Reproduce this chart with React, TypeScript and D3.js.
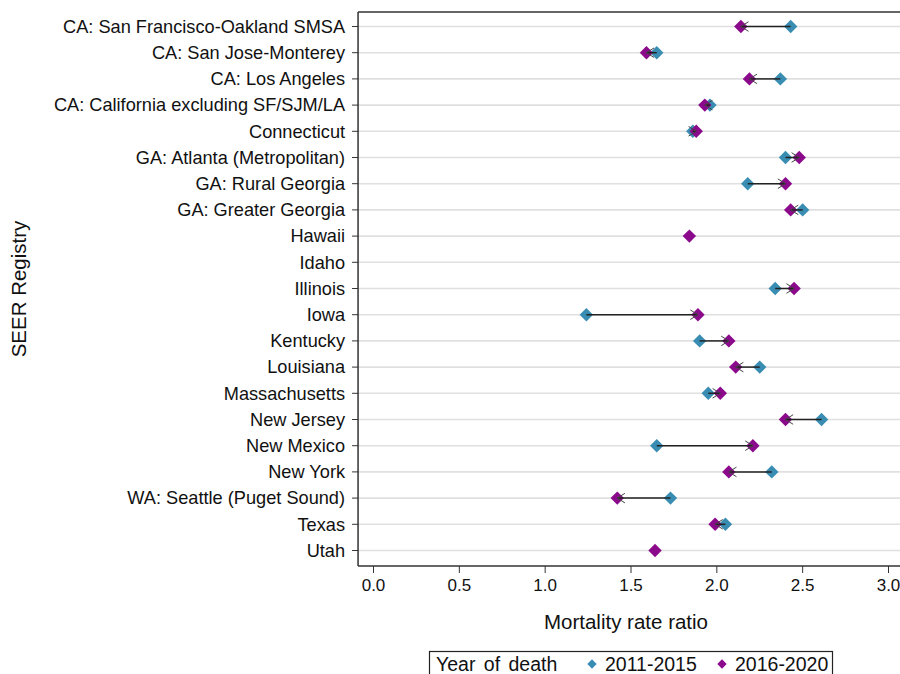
import * as d3 from "d3";

const registries = [
  "CA: San Francisco-Oakland SMSA",
  "CA: San Jose-Monterey",
  "CA: Los Angeles",
  "CA: California excluding SF/SJM/LA",
  "Connecticut",
  "GA: Atlanta (Metropolitan)",
  "GA: Rural Georgia",
  "GA: Greater Georgia",
  "Hawaii",
  "Idaho",
  "Illinois",
  "Iowa",
  "Kentucky",
  "Louisiana",
  "Massachusetts",
  "New Jersey",
  "New Mexico",
  "New York",
  "WA: Seattle (Puget Sound)",
  "Texas",
  "Utah",
];

// mortality rate ratio, 2011-2015 and 2016-2020 (null = not shown)
const ratio2011 = [2.43, 1.65, 2.37, 1.96, 1.86, 2.4, 2.18, 2.5, null, null, 2.34, 1.24, 1.9, 2.25, 1.95, 2.61, 1.65, 2.32, 1.73, 2.05, null];
const ratio2016 = [2.14, 1.59, 2.19, 1.93, 1.88, 2.48, 2.4, 2.43, 1.84, null, 2.45, 1.89, 2.07, 2.11, 2.02, 2.4, 2.21, 2.07, 1.42, 1.99, 1.64];

const xTicks = [0, 0.5, 1, 1.5, 2, 2.5, 3];
const seriesNames = ["2011-2015", "2016-2020"];

const TEAL = "#3a8db2";
const PURPLE = "#8b0a8b";
const FONT = "'Liberation Sans', Arial, sans-serif";

const width = 900;
const height = 674;

const App = () => {
  const x = d3.scaleLinear().domain([0, 3]).range([373.5, 888.5]);
  const y = d3.scalePoint<string>().domain(registries).range([26.5, 550.5]);

  const left = x(-0.09);
  const right = width;
  const top = 12;
  const bottom = 566;

  const diamond = d3.symbol().type(d3.symbolSquare).size(90)();

  const arrows = registries
    .map((r, i) => ({ r, a: ratio2011[i], b: ratio2016[i] }))
    .filter(d => d.a != null && d.b != null);

  const headPath = (a: number, b: number, yy: number) => {
    const x1 = x(a);
    const x2 = x(b);
    const dir = x2 >= x1 ? 1 : -1;
    const L = 9;
    const ang = (32 * Math.PI) / 180;
    const dx = -dir * L * Math.cos(ang);
    const dy = L * Math.sin(ang);
    return `M${x2 + dx},${yy - dy}L${x2},${yy}L${x2 + dx},${yy + dy}`;
  };

  return (
    <svg
      width={width}
      height={height}
      style={{ position: "absolute", left: 0, top: 0, background: "#fff" }}
      fontFamily={FONT}
    >
      {/* grid lines */}
      {registries.map(r => (
        <line key={"g" + r} x1={left} x2={right} y1={y(r)} y2={y(r)} stroke="#e0e0e0" strokeWidth={1.6} />
      ))}

      {/* frame */}
      <line x1={left} x2={right} y1={top} y2={top} stroke="#333" strokeWidth={1.5} />
      <line x1={left} x2={left} y1={top} y2={bottom} stroke="#333" strokeWidth={1.5} />
      <line x1={left} x2={right} y1={bottom} y2={bottom} stroke="#333" strokeWidth={1.5} />

      {/* y axis */}
      {registries.map(r => (
        <g key={"y" + r}>
          <line x1={left - 6} x2={left} y1={y(r)} y2={y(r)} stroke="#333" strokeWidth={1} />
          <text x={left - 13} y={y(r)} dy="0.35em" textAnchor="end" fontSize={18.2} fill="#111">
            {r}
          </text>
        </g>
      ))}
      <text
        transform={`translate(26,${(top + bottom) / 2}) rotate(-90)`}
        textAnchor="middle"
        fontSize={20.5}
        fill="#111"
      >
        SEER Registry
      </text>

      {/* x axis */}
      {xTicks.map(t => (
        <g key={"x" + t}>
          <line x1={x(t)} x2={x(t)} y1={bottom} y2={bottom + 7} stroke="#333" strokeWidth={1} />
          <text x={x(t)} y={bottom + 25} textAnchor="middle" fontSize={17} fill="#111">
            {t.toFixed(1)}
          </text>
        </g>
      ))}
      <text x={626} y={629} textAnchor="middle" fontSize={20.5} fill="#111">
        Mortality rate ratio
      </text>

      {/* markers */}
      {registries.map((r, i) =>
        ratio2011[i] != null ? (
          <path key={"a" + r} d={diamond} fill={TEAL} transform={`translate(${x(ratio2011[i] as number)},${y(r)}) rotate(45)`} />
        ) : null
      )}
      {registries.map((r, i) =>
        ratio2016[i] != null ? (
          <path key={"b" + r} d={diamond} fill={PURPLE} transform={`translate(${x(ratio2016[i] as number)},${y(r)}) rotate(45)`} />
        ) : null
      )}

      {/* arrows */}
      {arrows.map(d => (
        <g key={"ar" + d.r}>
          <line x1={x(d.a as number)} x2={x(d.b as number)} y1={y(d.r)} y2={y(d.r)} stroke="#222" strokeWidth={1.5} />
          <path d={headPath(d.a as number, d.b as number, y(d.r) as number)} fill="none" stroke="#444" strokeWidth={1} />
        </g>
      ))}

      {/* legend */}
      <g>
        <rect x={429.5} y={651.5} width={403} height={30} fill="#fff" stroke="#222" strokeWidth={1.2} />
        <text x={436} y={671} fontSize={19.5} fill="#111" wordSpacing={3}>
          Year of death
        </text>
        {seriesNames.map((s, i) => (
          <g key={"l" + s} transform={`translate(592,664)`}>
            <path
              d={d3.symbol().type(d3.symbolSquare).size(44)()}
              fill={i === 0 ? TEAL : PURPLE}
              transform={`translate(${i * 130},0) rotate(45)`}
            />
            <text x={i * 130 + 13} y={7} fontSize={19.5} fill="#111">
              {s}
            </text>
          </g>
        ))}
      </g>
    </svg>
  );
};

export default App;
